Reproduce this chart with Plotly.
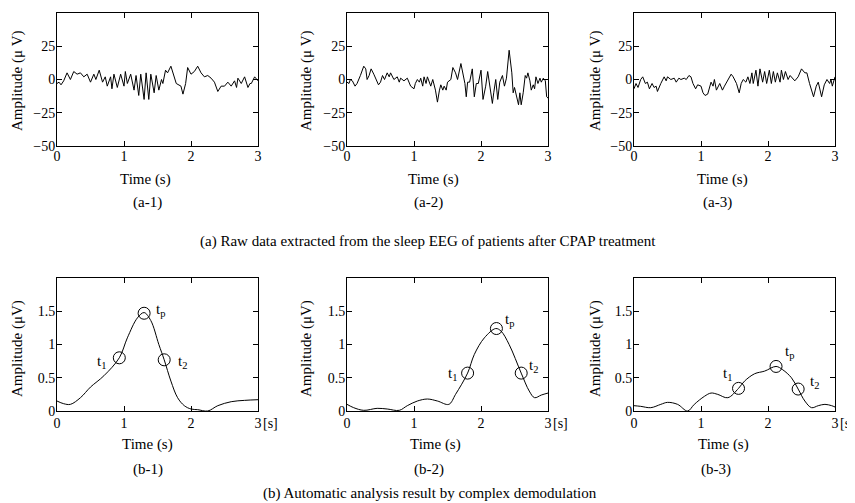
import plotly.graph_objects as go

# ---- data ----
# (a) raw EEG, time (s) and amplitude (uV)
a1_t = [0, 0.03, 0.06, 0.1, 0.15, 0.2, 0.25, 0.3, 0.35, 0.4, 0.45, 0.5, 0.55, 0.58, 0.63, 0.68, 0.72,
        0.75, 0.8, 0.82, 0.85, 0.9, 0.95, 1.0, 1.02, 1.05, 1.1, 1.15, 1.18, 1.22, 1.25, 1.3, 1.33,
        1.37, 1.4, 1.45, 1.48, 1.52, 1.56, 1.58, 1.62, 1.65, 1.7, 1.75, 1.78, 1.85, 1.88, 1.92, 1.95,
        2.0, 2.05, 2.1, 2.15, 2.2, 2.25, 2.3, 2.35, 2.4, 2.45, 2.5, 2.55, 2.6, 2.65, 2.68, 2.7, 2.75,
        2.8, 2.85, 2.88, 2.9, 2.95, 3.0]
a1_v = [-3, -2, -4, -1, 5, 0, 6, 4, 5, 2, 4, -2, 4, 0, 7, -2, 2, -5, 2, -7, 4, -6, 4, -5, 6, -3,
        4, -8, 3, -12, 4, -15, 5, -15, 4, -10, 3, -8, 0, -3, 7, 5, 10, 2, -3, -5, -11, -3, 9, 4, 6,
        10, 5, 2, 3, 1, -2, -9, -5, -5, -2, -5, -1, -6, 1, -3, 2, -6, -3, -3, 2, -1]

a2_t = [0, 0.03, 0.05, 0.08, 0.12, 0.15, 0.2, 0.25, 0.28, 0.3, 0.33, 0.36, 0.4, 0.43, 0.47, 0.5,
        0.53, 0.56, 0.6, 0.63, 0.65, 0.7, 0.75, 0.78, 0.8, 0.85, 0.9, 0.95, 1.0, 1.02, 1.05, 1.08,
        1.1, 1.13, 1.15, 1.18, 1.2, 1.25, 1.28, 1.32, 1.35, 1.38, 1.4, 1.43, 1.45, 1.48, 1.5, 1.55,
        1.58, 1.62, 1.65, 1.7, 1.73, 1.76, 1.78, 1.8, 1.83, 1.87, 1.9, 1.93, 1.96, 2.0, 2.03, 2.07,
        2.1, 2.13, 2.17, 2.19, 2.22, 2.25, 2.28, 2.32, 2.35, 2.38, 2.42, 2.46, 2.48, 2.5, 2.53, 2.56,
        2.58, 2.6, 2.63, 2.66, 2.68, 2.7, 2.73, 2.75, 2.78, 2.8, 2.82, 2.85, 2.88, 2.9, 2.93, 2.96,
        2.98, 3.0]
a2_v = [-2, -3, 0, -1, -5, -3, 3, 10, 8, 0, 3, 8, 4, 0, -4, -2, 3, 0, 5, 2, 5, 0, 2, -2, 1, -1, 1,
        -5, -7, -3, 0, -2, 1, -5, 2, -3, 2, -5, 0, -8, -17, -8, -4, -8, -5, -8, -2, 0, 9, 5, 0, 12,
        5, -3, -13, -2, -2, 8, -13, -3, -3, 7, -15, -5, 6, -3, -18, -10, 0, -15, -2, 3, -5, 1, 22,
        5, -10, -6, -13, -19, -10, -19, -10, 3, 1, 5, -1, -8, -4, -7, 2, -3, 1, -2, 1, -1, -13, -14]

a3_t = [0, 0.03, 0.06, 0.1, 0.13, 0.17, 0.2, 0.23, 0.27, 0.3, 0.33, 0.35, 0.4, 0.45, 0.48, 0.5,
        0.55, 0.6, 0.63, 0.67, 0.7, 0.75, 0.78, 0.82, 0.85, 0.88, 0.92, 0.95, 1.0, 1.03, 1.06, 1.1,
        1.15, 1.18, 1.2, 1.23, 1.28, 1.32, 1.35, 1.4, 1.45, 1.48, 1.53, 1.57, 1.6, 1.63, 1.67, 1.7,
        1.73, 1.76, 1.78, 1.82, 1.85, 1.88, 1.92, 1.95, 1.98, 2.02, 2.05, 2.08, 2.11, 2.14, 2.18,
        2.2, 2.23, 2.26, 2.3, 2.33, 2.37, 2.4, 2.45, 2.5, 2.55, 2.58, 2.62, 2.68, 2.72, 2.75, 2.8,
        2.84, 2.88, 2.92, 2.94, 2.96, 3.0]
a3_v = [-7, -3, -6, 0, 2, -3, -2, -7, -3, -6, -5, -9, -3, 2, -1, 2, 0, 1, -2, 1, 0, 1, 0, 3, 2,
        -3, -7, -4, -5, -10, -12, -11, -2, -5, 0, -8, -3, -8, -5, 0, 4, 2, -3, -10, -3, 0, -2, 2,
        -3, 5, -3, 7, -5, 8, -2, 6, -3, 7, -3, 6, -2, 5, -2, 7, 0, 6, 0, 3, 1, -1, 2, 8, 5, 5, -3,
        -13, -5, -2, -13, -4, 0, -3, 0, -5, 2]

# (b) demodulated amplitude (uV)
b1_t = [0, 0.1, 0.2, 0.35, 0.5, 0.7, 0.93, 1.05, 1.2, 1.3, 1.4, 1.52, 1.6, 1.7, 1.8, 1.9, 2.0,
        2.1, 2.25, 2.4, 2.6, 2.8, 3.0]
b1_v = [0.15, 0.11, 0.1, 0.2, 0.36, 0.53, 0.8, 1.1, 1.4, 1.48, 1.36, 1.0, 0.77, 0.45, 0.2, 0.08,
        0.03, 0.02, 0.0, 0.08, 0.14, 0.16, 0.17]
b2_t = [0, 0.1, 0.25, 0.45, 0.6, 0.78, 0.9, 1.05, 1.2, 1.35, 1.52, 1.62, 1.8, 1.9, 2.05, 2.22,
        2.3, 2.42, 2.6, 2.72, 2.8, 2.9, 3.0]
b2_v = [0.1, 0.05, 0.01, 0.04, 0.03, 0.01, 0.08, 0.15, 0.18, 0.15, 0.1, 0.25, 0.57, 0.85, 1.1,
        1.24, 1.2, 1.0, 0.57, 0.3, 0.2, 0.24, 0.27]
b3_t = [0, 0.1, 0.25, 0.4, 0.5, 0.65, 0.8, 0.9, 1.05, 1.15, 1.25, 1.4, 1.56, 1.65, 1.8, 1.95,
        2.12, 2.22, 2.35, 2.45, 2.55, 2.65, 2.75, 2.85, 2.95, 3.0]
b3_v = [0.08, 0.07, 0.05, 0.1, 0.13, 0.1, 0.0, 0.1, 0.22, 0.27, 0.25, 0.2, 0.34, 0.45, 0.56,
        0.6, 0.67, 0.62, 0.5, 0.33, 0.15, 0.05, 0.08, 0.1, 0.08, 0.06]

# t1, tp, t2 points
b1_pt_t = [0.93, 1.3, 1.6]
b1_pt_v = [0.8, 1.47, 0.77]
b2_pt_t = [1.8, 2.23, 2.6]
b2_pt_v = [0.57, 1.24, 0.57]
b3_pt_t = [1.56, 2.12, 2.45]
b3_pt_v = [0.34, 0.67, 0.33]
pt_names = ["t<sub>1</sub>", "t<sub>p</sub>", "t<sub>2</sub>"]
# label anchors (time, amplitude) next to each point
b1_lab = [(0.66, 0.74), (1.55, 1.52), (1.88, 0.74)]
b2_lab = [(1.57, 0.55), (2.43, 1.37), (2.78, 0.67)]
b3_lab = [(1.39, 0.56), (2.32, 0.88), (2.69, 0.43)]

sub_a = ["(a-1)", "(a-2)", "(a-3)"]
sub_b = ["(b-1)", "(b-2)", "(b-3)"]
cap_a = "(a) Raw data extracted from the sleep EEG of patients after CPAP treatment"
cap_b = "(b) Automatic analysis result by complex demodulation"

# ---- layout helpers (pixel positions as seen on screen) ----
W, H = 855, 503
OFF = 8  # page body margin
FONT = "Liberation Serif, Times New Roman, serif"
lefts = [57, 347, 634]
pw = 201
top_row = (13, 146)
bot_row = (278, 411)
ytitle_x = [[18, 307, 596], [17, 306, 595]]
time_x = [[145, 433, 722], [147, 435, 723]]
sub_x = [[147, 428, 717], [148, 429, 716]]


def px2x(p):
    return (p - OFF) / W


def px2y(p):
    return 1 - (p - OFF) / H


def label(text, x, y, size=15, **kw):
    d = dict(text=text, x=x, y=y, xref="paper", yref="paper", xanchor="center",
             yanchor="middle", showarrow=False, font=dict(family=FONT, size=size, color="black"))
    d.update(kw)
    return d


fig = go.Figure()

top_data = [(a1_t, a1_v), (a2_t, a2_v), (a3_t, a3_v)]
bot_data = [(b1_t, b1_v, b1_pt_t, b1_pt_v, b1_lab),
            (b2_t, b2_v, b2_pt_t, b2_pt_v, b2_lab),
            (b3_t, b3_v, b3_pt_t, b3_pt_v, b3_lab)]

ann = []
axis_common = dict(showline=True, linecolor="black", linewidth=1, mirror="allticks",
                   ticks="inside", ticklen=5, tickcolor="black", showgrid=False,
                   zeroline=False, automargin=False,
                   tickfont=dict(family=FONT, size=14, color="black"))

for i in range(3):
    n = i + 1
    xa = "x" if n == 1 else "x%d" % n
    ya = "y" if n == 1 else "y%d" % n
    t, v = top_data[i]
    fig.add_trace(go.Scatter(x=t, y=v, mode="lines", line=dict(color="black", width=1),
                             xaxis=xa, yaxis=ya, showlegend=False))
    fig.layout["xaxis" if n == 1 else "xaxis%d" % n] = dict(
        domain=[px2x(lefts[i]), px2x(lefts[i] + pw)], anchor=ya, range=[0, 3],
        tickvals=[0, 1, 2, 3], ticklabelstandoff=-3, **axis_common)
    fig.layout["yaxis" if n == 1 else "yaxis%d" % n] = dict(
        domain=[px2y(top_row[1]), px2y(top_row[0])], anchor=xa, range=[-50, 50],
        tickvals=[-50, -25, 0, 25], ticklabelstandoff=-2, **axis_common)
    ann.append(label("Time (s)", px2x(time_x[0][i]), px2y(180)))
    ann.append(label(sub_a[i], px2x(sub_x[0][i]), px2y(203)))
    ann.append(label("Amplitude (μ V)", px2x(ytitle_x[0][i]), px2y(81), textangle=-90))

for i in range(3):
    n = i + 4
    xa, ya = "x%d" % n, "y%d" % n
    t, v, pt, pv, lab = bot_data[i]
    fig.add_trace(go.Scatter(x=t, y=v, mode="lines",
                             line=dict(color="black", width=1, shape="spline", smoothing=1.0),
                             xaxis=xa, yaxis=ya, showlegend=False))
    fig.add_trace(go.Scatter(x=pt, y=pv, mode="markers",
                             marker=dict(symbol="circle-open", size=12, color="black", line=dict(width=1)),
                             xaxis=xa, yaxis=ya, showlegend=False))
    fig.layout["xaxis%d" % n] = dict(
        domain=[px2x(lefts[i]), px2x(lefts[i] + pw)], anchor=ya, range=[0, 3],
        tickvals=[0, 1, 2, 3], ticklabelstandoff=-1, **axis_common)
    fig.layout["yaxis%d" % n] = dict(
        domain=[px2y(bot_row[1]), px2y(bot_row[0])], anchor=xa, range=[0, 2],
        tickvals=[0, 0.5, 1, 1.5], ticktext=["0", "0.5", "1", "1.5"], ticklabelstandoff=-2,
        **axis_common)
    for name, (lx, ly) in zip(pt_names, lab):
        ann.append(dict(text=name, x=lx, y=ly, xref=xa, yref=ya, xanchor="center",
                        yanchor="middle", showarrow=False,
                        font=dict(family=FONT, size=15, color="black")))
    ann.append(dict(text="[s]", x=3, y=0, xref=xa, yref=ya, xanchor="left", yanchor="middle",
                    xshift=3, yshift=-12, showarrow=False,
                    font=dict(family=FONT, size=14, color="black")))
    ann.append(label("Time (s)", px2x(time_x[1][i]), px2y(444)))
    ann.append(label(sub_b[i], px2x(sub_x[1][i]), px2y(469)))
    ann.append(label("Amplitude (μV)", px2x(ytitle_x[1][i]), px2y(349), textangle=-90))

ann.append(label(cap_a, px2x(428), px2y(241), size=15))
ann.append(label(cap_b, px2x(430), px2y(493), size=15))

fig.update_layout(width=W, height=H, margin=dict(l=0, r=0, t=0, b=0),
                  paper_bgcolor="white", plot_bgcolor="white", annotations=ann,
                  font=dict(family=FONT, color="black"))

fig.write_html("out.html")
